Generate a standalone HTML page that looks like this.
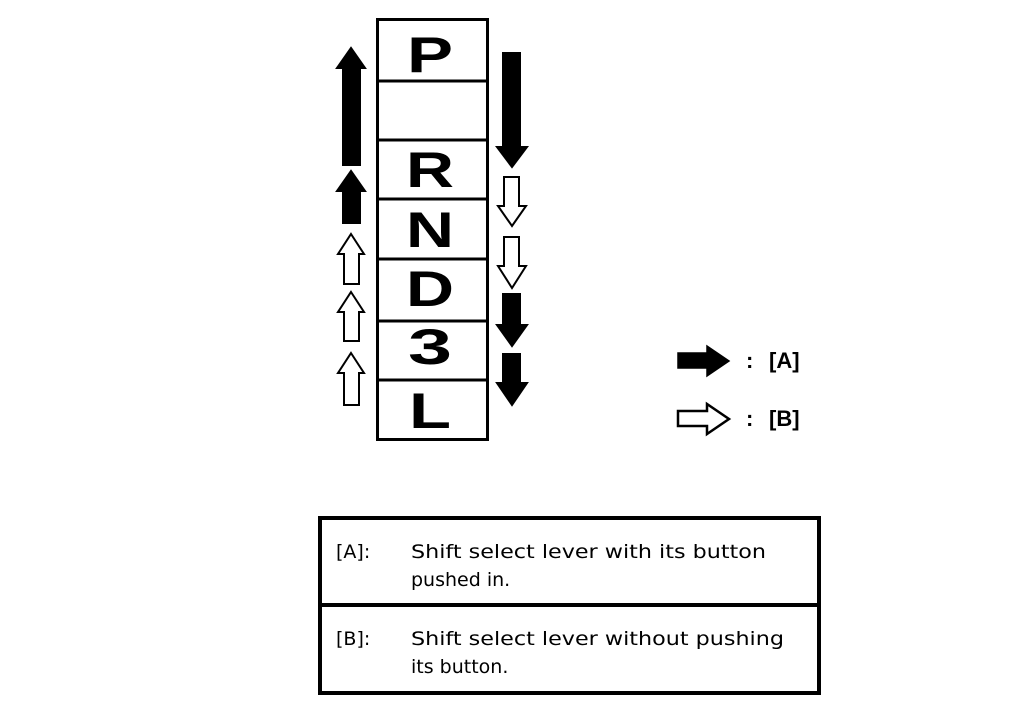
<!DOCTYPE html>
<html><head><meta charset="utf-8"><style>
html,body{margin:0;padding:0;background:#fff;}
svg{display:block;}
</style></head><body>
<svg width="1024" height="728" viewBox="0 0 1024 728" xmlns="http://www.w3.org/2000/svg">
<rect x="0" y="0" width="1024" height="728" fill="#fff"/>
<!-- lever box -->
<rect x="377.5" y="19.5" width="110" height="420" fill="none" stroke="#000" stroke-width="3"/>
<g stroke="#000" stroke-width="3">
<line x1="377" y1="81" x2="488" y2="81"/>
<line x1="377" y1="140" x2="488" y2="140"/>
<line x1="377" y1="199" x2="488" y2="199"/>
<line x1="377" y1="259" x2="488" y2="259"/>
<line x1="377" y1="321" x2="488" y2="321"/>
<line x1="377" y1="380" x2="488" y2="380"/>
</g>
<g font-family="'Liberation Sans',sans-serif" font-weight="bold" font-size="50" fill="#000" text-anchor="middle">
<text x="430" y="72" textLength="46" lengthAdjust="spacingAndGlyphs">P</text>
<text x="430" y="187" textLength="48" lengthAdjust="spacingAndGlyphs">R</text>
<text x="430" y="247" textLength="48" lengthAdjust="spacingAndGlyphs">N</text>
<text x="430" y="306" textLength="48" lengthAdjust="spacingAndGlyphs">D</text>
<text x="430" y="364" textLength="44" lengthAdjust="spacingAndGlyphs">3</text>
<text x="430" y="428" textLength="42" lengthAdjust="spacingAndGlyphs">L</text>
</g>
<!-- left arrows (up) -->
<g stroke="#000" stroke-width="2">
<polygon points="351,48 365,68 360,68 360,165 343,165 343,68 337,68" fill="#000"/>
<polygon points="351,171 365,191 360,191 360,223 343,223 343,191 337,191" fill="#000"/>
<polygon points="351,234 364,254 359,254 359,284 344,284 344,254 338,254" fill="#fff"/>
<polygon points="351,292 364,312 359,312 359,341 344,341 344,312 338,312" fill="#fff"/>
<polygon points="351,353 364,373 359,373 359,405 344,405 344,373 338,373" fill="#fff"/>
</g>
<!-- right arrows (down) -->
<g stroke="#000" stroke-width="2">
<polygon points="503,53 520,53 520,147 527,147 512,167 497,147 503,147" fill="#000"/>
<polygon points="504,177 519,177 519,206 526,206 512,226 498,206 504,206" fill="#fff"/>
<polygon points="504,237 519,237 519,266 526,266 512,288 498,266 504,266" fill="#fff"/>
<polygon points="503,294 520,294 520,325 527,325 512,346 497,325 503,325" fill="#000"/>
<polygon points="503,354 520,354 520,383 527,383 512,405 497,383 503,383" fill="#000"/>
</g>
<!-- legend -->
<polygon points="678,353 707,353 707,346 729,361 707,376 707,368 678,368" fill="#000" stroke="#000" stroke-width="1.5"/>
<polygon points="678,411 707,411 707,404 729,419 707,434 707,426 678,426" fill="#fff" stroke="#000" stroke-width="2.5"/>
<g font-family="'Liberation Sans',sans-serif" font-weight="bold" font-size="22" fill="#000">
<text x="746" y="368">:</text><text x="769" y="368">[A]</text>
<text x="746" y="426">:</text><text x="769" y="426">[B]</text>
</g>
<!-- table -->
<rect x="320" y="518" width="499" height="175" fill="none" stroke="#000" stroke-width="4"/>
<line x1="320" y1="605" x2="819" y2="605" stroke="#000" stroke-width="4"/>
<g font-family="'DejaVu Sans','Liberation Sans',sans-serif" font-size="19" fill="#000">
<text x="336" y="558">[A]:</text>
<text x="411" y="558" textLength="355" lengthAdjust="spacingAndGlyphs">Shift select lever with its button</text>
<text x="411" y="586">pushed in.</text>
<text x="336" y="645">[B]:</text>
<text x="411" y="645" textLength="373" lengthAdjust="spacingAndGlyphs">Shift select lever without pushing</text>
<text x="411" y="673">its button.</text>
</g>
</svg>
</body></html>
